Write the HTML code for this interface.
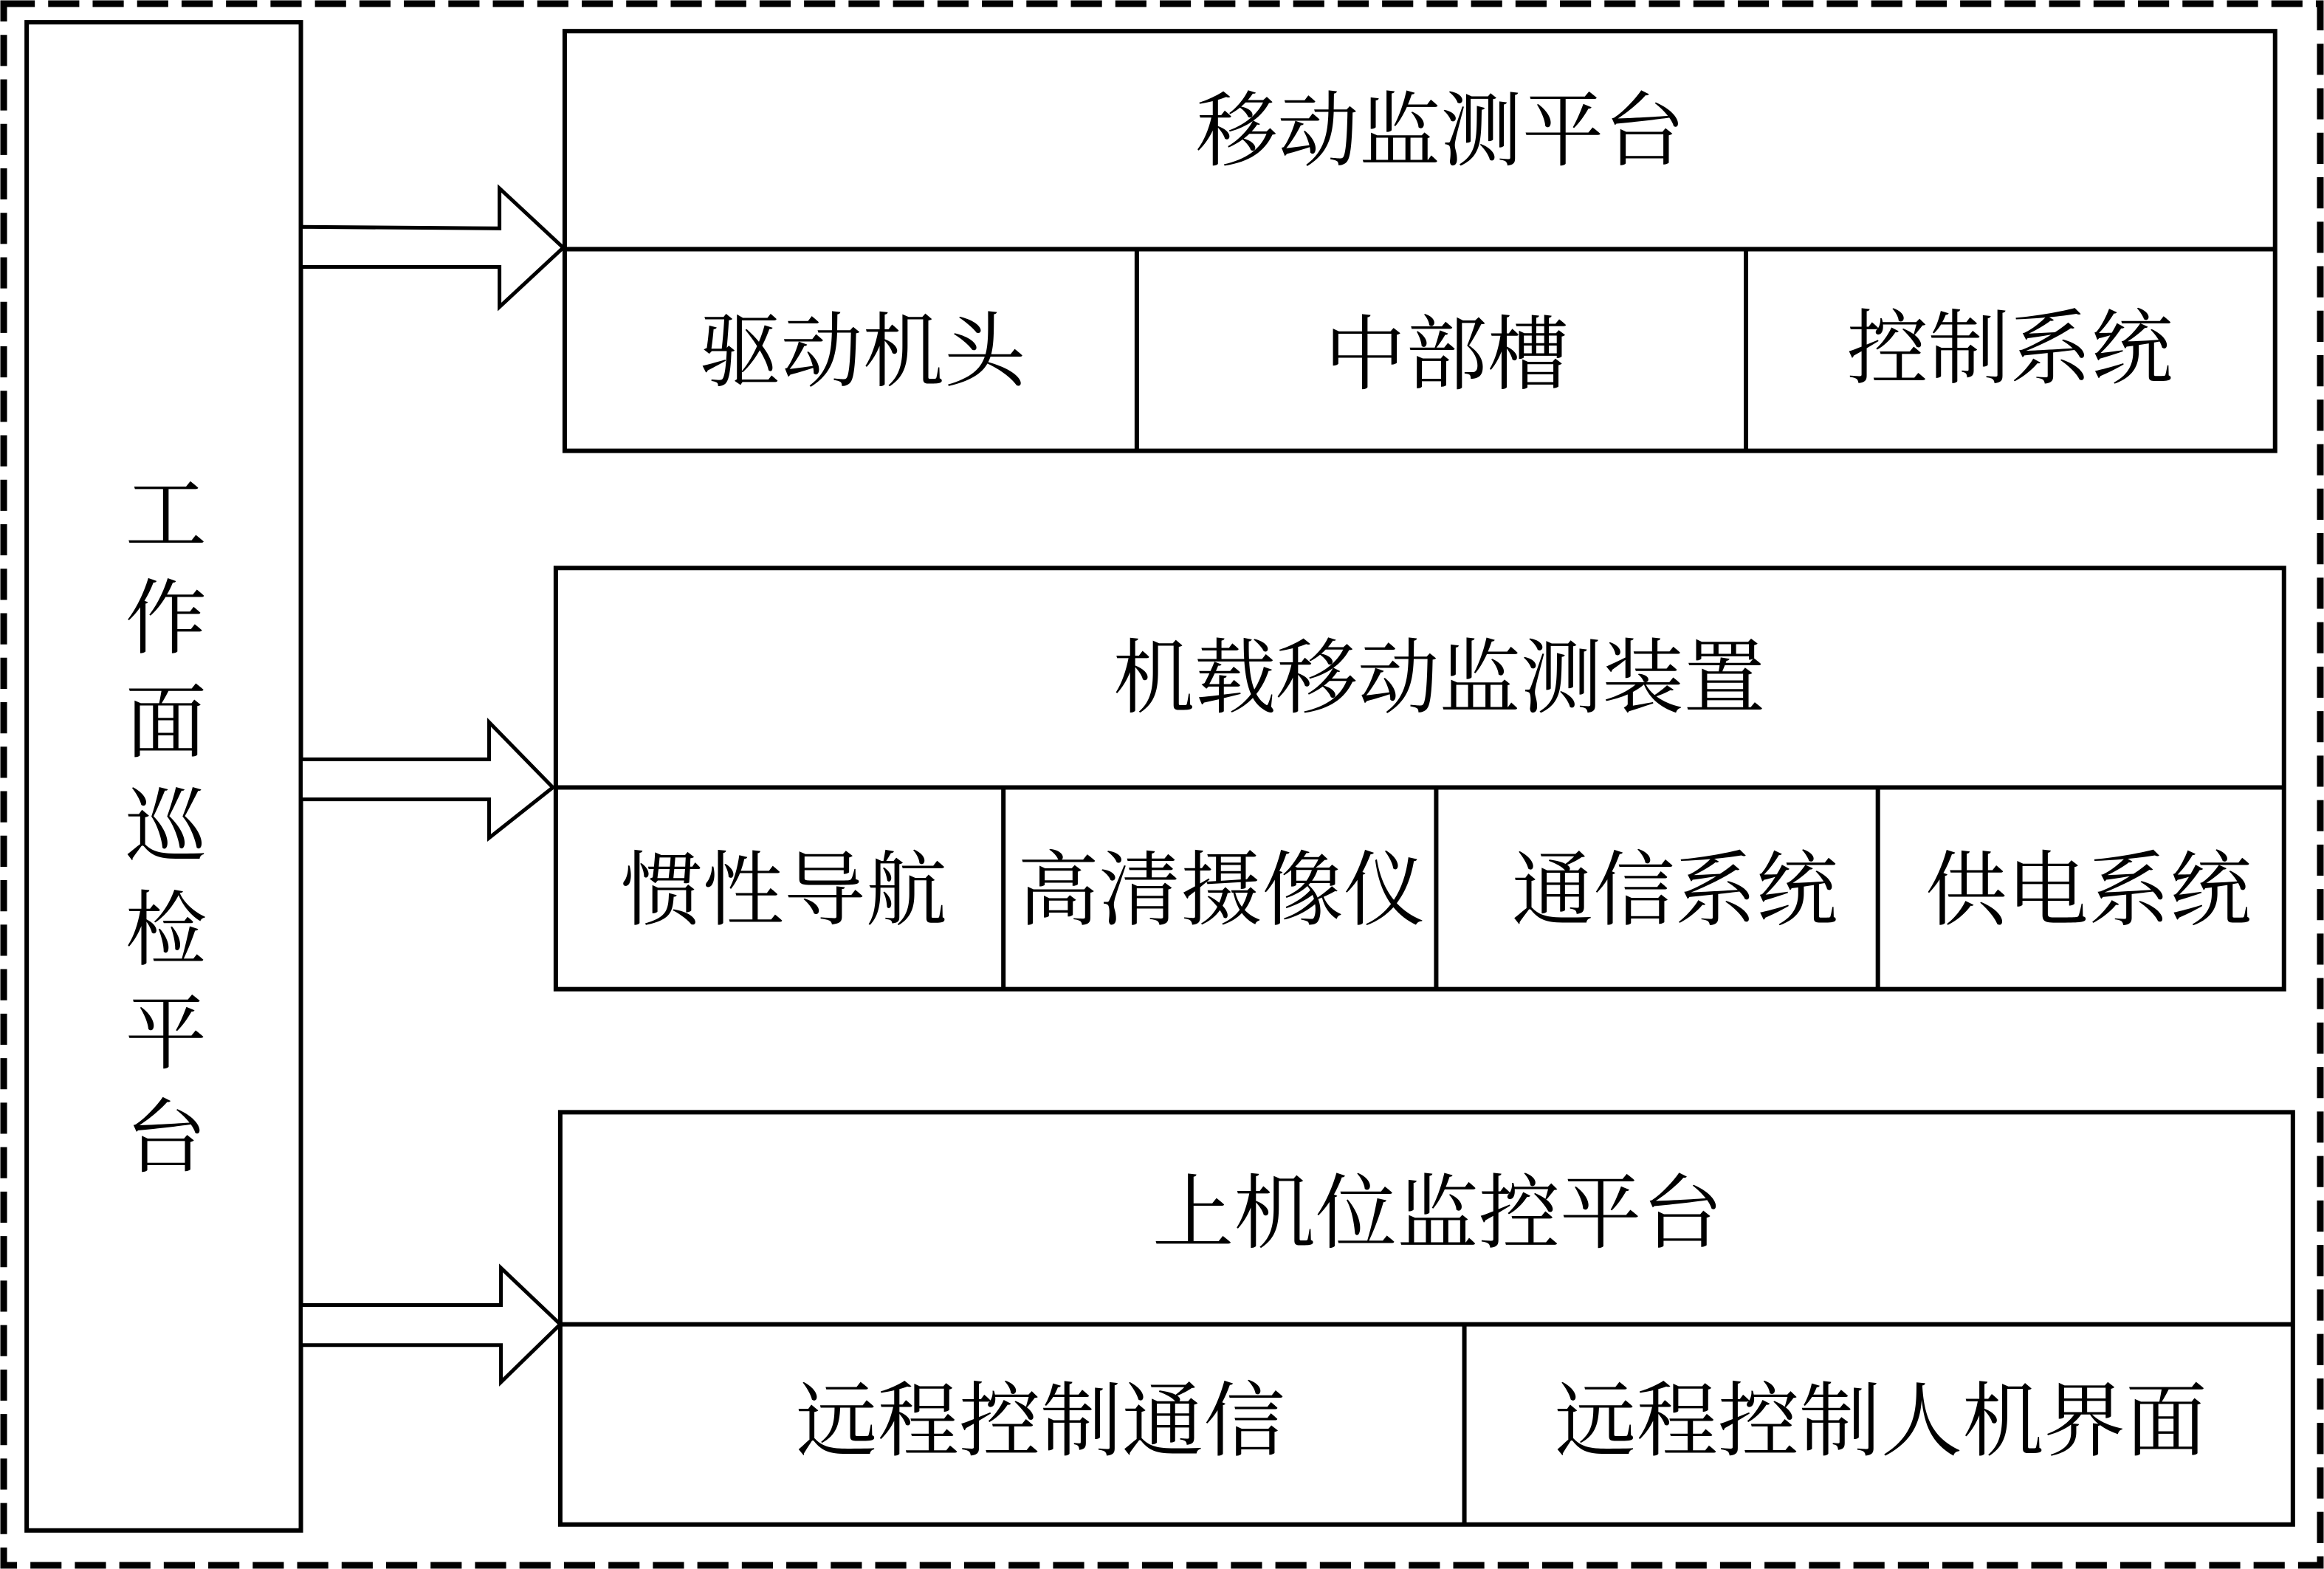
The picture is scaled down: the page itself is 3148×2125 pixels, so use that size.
<!DOCTYPE html>
<html><head><meta charset="utf-8"><style>
html,body{margin:0;padding:0;background:#fff;}
svg{display:block;}
text{font-family:"Liberation Serif","Noto Serif CJK SC",serif;fill:#000;}
</style></head><body>
<svg width="3148" height="2125" viewBox="0 0 1568 1058" preserveAspectRatio="none" xmlns="http://www.w3.org/2000/svg">
<rect x="0" y="0" width="1568" height="1058" fill="#fff"/>
<rect x="2.5" y="2.5" width="1563" height="1053" fill="none" stroke="#000" stroke-width="4.5" stroke-dasharray="21,9"/>
<g fill="none" stroke="#000" stroke-width="3">
<rect x="18" y="15" width="185" height="1017"/>
<rect x="381" y="21" width="1154" height="283"/>
<line x1="381" y1="168" x2="1535" y2="168"/>
<line x1="767" y1="168" x2="767" y2="304"/>
<line x1="1178" y1="168" x2="1178" y2="304"/>
<rect x="375" y="383" width="1166" height="284"/>
<line x1="375" y1="531" x2="1541" y2="531"/>
<line x1="677" y1="531" x2="677" y2="667"/>
<line x1="969" y1="531" x2="969" y2="667"/>
<line x1="1267" y1="531" x2="1267" y2="667"/>
<rect x="378" y="750" width="1169" height="278"/>
<line x1="378" y1="893" x2="1547" y2="893"/>
<line x1="988" y1="893" x2="988" y2="1028"/>
</g>
<g fill="#fff" stroke="#000" stroke-width="2.5" stroke-linejoin="miter">
<polygon points="203,153 337,154 337,127 380,167 337,207 337,180 203,180"/>
<polygon points="203,512 330,512 330,487 373,531 330,565 330,539 203,539"/>
<polygon points="203,880 338,880 338,855 378,893 338,932 338,907 203,907"/>
</g>
<g font-size="55" text-anchor="middle">
<text x="112" y="366">工</text>
<text x="112" y="436">作</text>
<text x="112" y="506">面</text>
<text x="112" y="576">巡</text>
<text x="112" y="646">检</text>
<text x="112" y="716">平</text>
<text x="112" y="786">台</text>
<text x="972" y="107">移动监测平台</text>
<text x="582" y="256">驱动机头</text>
<text x="976" y="258">中部槽</text>
<text x="1356" y="254">控制系统</text>
<text x="971" y="476">机载移动监测装置</text>
<text x="529" y="619">惯性导航</text>
<text x="824" y="619">高清摄像仪</text>
<text x="1130" y="619">通信系统</text>
<text x="1409" y="619">供电系统</text>
<text x="970" y="837">上机位监控平台</text>
<text x="702" y="977">远程控制通信</text>
<text x="1269" y="977">远程控制人机界面</text>
</g>
</svg>
</body></html>
